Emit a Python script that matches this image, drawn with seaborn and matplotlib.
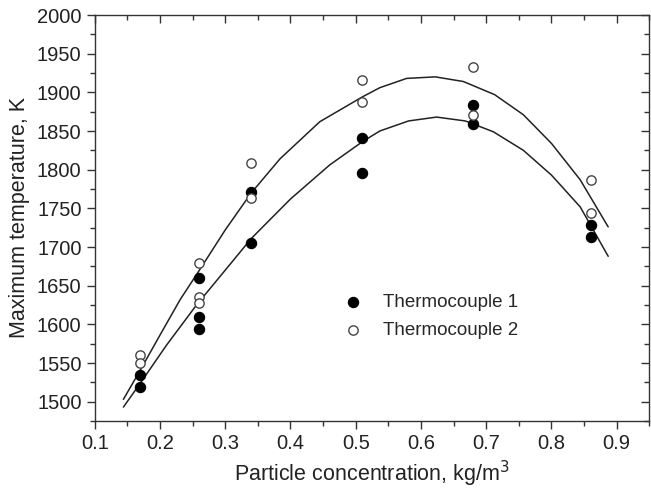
import matplotlib
matplotlib.use("Agg")
import matplotlib.pyplot as plt
import seaborn as sns
from matplotlib.ticker import MultipleLocator

# Data
conc_tc1 = [0.17, 0.17, 0.26, 0.26, 0.26, 0.34, 0.34, 0.51, 0.51, 0.68, 0.68, 0.86, 0.86]
temp_tc1 = [1534, 1519, 1660, 1609, 1594, 1771, 1705, 1841, 1796, 1884, 1859, 1729, 1713]

conc_tc2 = [0.17, 0.17, 0.26, 0.26, 0.26, 0.34, 0.34, 0.51, 0.51, 0.68, 0.68, 0.86, 0.86]
temp_tc2 = [1560, 1550, 1679, 1635, 1628, 1808, 1763, 1916, 1888, 1933, 1871, 1786, 1744]

# Fitted curves as drawn in the figure
fit_upper_x = [0.144, 0.17, 0.20, 0.231, 0.262, 0.30, 0.34, 0.384, 0.445, 0.51, 0.537,
               0.578, 0.622, 0.665, 0.713, 0.757, 0.80, 0.844, 0.887]
fit_upper_y = [1503, 1541, 1586, 1632, 1672, 1722, 1770, 1814, 1862, 1894, 1906,
               1918, 1920, 1914, 1897, 1871, 1834, 1787, 1726]
fit_lower_x = [0.144, 0.17, 0.21, 0.256, 0.30, 0.34, 0.40, 0.46, 0.51, 0.537, 0.581,
               0.624, 0.668, 0.711, 0.757, 0.80, 0.844, 0.887]
fit_lower_y = [1493, 1524, 1573, 1625, 1670, 1711, 1762, 1806, 1836, 1850, 1863,
               1868, 1863, 1849, 1825, 1793, 1752, 1688]

sns.set_theme(style="ticks")
plt.rcParams['font.family'] = ['Liberation Sans', 'DejaVu Sans']
plt.rcParams['axes.edgecolor'] = '#333333'
plt.rcParams['axes.linewidth'] = 1.0

fig = plt.figure(figsize=(6.51, 4.90), dpi=100)
ax = fig.add_axes([94.7 / 651, 1 - 421 / 490, (649.3 - 94.7) / 651, (421 - 15) / 490])

# curves
sns.lineplot(x=fit_upper_x, y=fit_upper_y, sort=False, estimator=None, color='#222222',
             linewidth=1.1, ax=ax, legend=False)
sns.lineplot(x=fit_lower_x, y=fit_lower_y, sort=False, estimator=None, color='#222222',
             linewidth=1.1, ax=ax, legend=False)

# points
sns.scatterplot(x=conc_tc1, y=temp_tc1, color='black', edgecolor='black', s=55,
                linewidth=0.8, ax=ax, label='Thermocouple 1', zorder=3)
sns.scatterplot(x=conc_tc2, y=temp_tc2, color='white', edgecolor='#444444', s=45,
                linewidth=1.0, ax=ax, label='Thermocouple 2', zorder=4)

ax.set_xlim(0.1, 0.95)
ax.set_ylim(1475, 2000)
ax.xaxis.set_major_locator(MultipleLocator(0.1))
ax.xaxis.set_minor_locator(MultipleLocator(0.05))
ax.yaxis.set_major_locator(MultipleLocator(50))
ax.yaxis.set_minor_locator(MultipleLocator(25))
ax.set_xticks([0.1, 0.2, 0.3, 0.4, 0.5, 0.6, 0.7, 0.8, 0.9])
ax.set_xticklabels(['0.1', '0.2', '0.3', '0.4', '0.5', '0.6', '0.7', '0.8', '0.9'])

ax.tick_params(which='both', direction='out', colors='#333333', labelcolor='#222222',
               labelsize=14.5, width=1.0)
ax.tick_params(which='major', length=6)
ax.tick_params(which='minor', length=3.5)
ax.tick_params(which='both', top=True, right=True)

# top and right ticks point inward, left and bottom outward
for t in ax.xaxis.get_major_ticks() + ax.xaxis.get_minor_ticks():
    t.tick2line.set_marker(3)
for t in ax.yaxis.get_major_ticks() + ax.yaxis.get_minor_ticks():
    t.tick2line.set_marker(0)

ax.set_xlabel('Particle concentration, kg/m$^3$', fontsize=15.5, color='#222222', labelpad=4)
ax.set_ylabel('Maximum temperature, K', fontsize=15.5, color='#222222', labelpad=5)

ax.legend(loc='center left', bbox_to_anchor=(0.402, 0.258), frameon=False, fontsize=13.5,
          handletextpad=0.6, labelspacing=0.6, markerscale=1.0)

fig.savefig('out.png', dpi=100)
